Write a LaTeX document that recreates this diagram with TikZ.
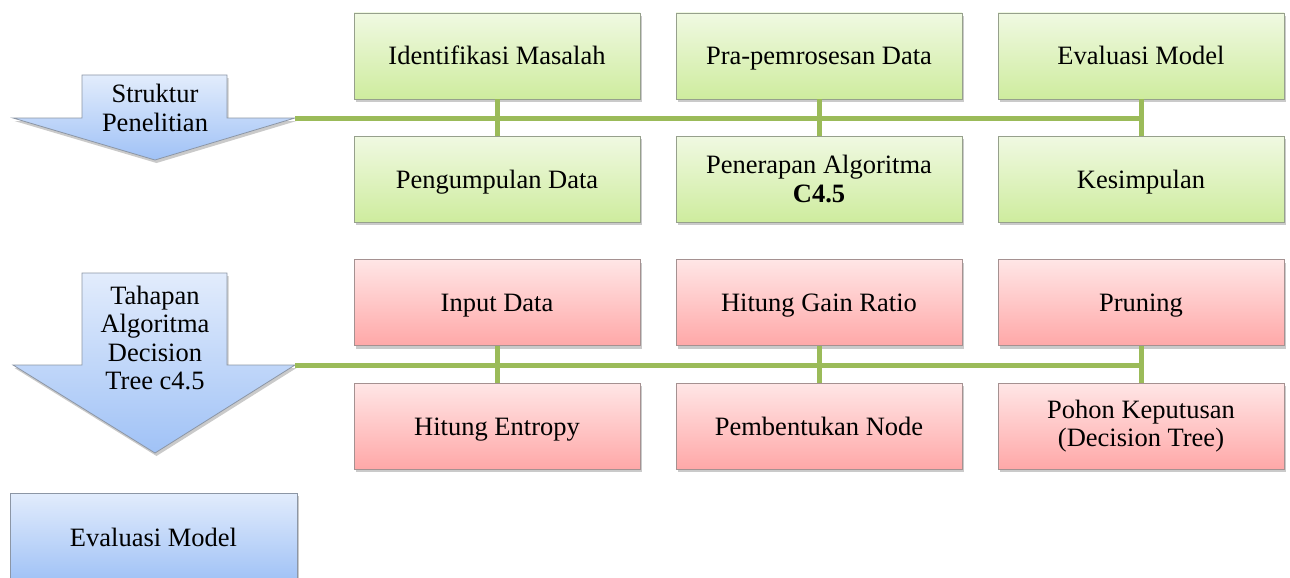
\documentclass[tikz,border=0pt]{standalone}
\usepackage{fontspec}
\setmainfont{LiberationSerif-Regular.ttf}[BoldFont=LiberationSerif-Bold.ttf]
\usetikzlibrary{shadows}
\definecolor{greentop}{RGB}{240,249,226}
\definecolor{greenbot}{RGB}{206,236,158}
\definecolor{greenedge}{RGB}{150,160,140}
\definecolor{redtop}{RGB}{255,230,230}
\definecolor{redbot}{RGB}{255,168,168}
\definecolor{rededge}{RGB}{165,145,145}
\definecolor{bluetop}{RGB}{226,236,252}
\definecolor{bluebot}{RGB}{160,194,246}
\definecolor{blueedge}{RGB}{140,150,165}
\definecolor{linkgreen}{RGB}{155,187,89}
\tikzset{
  boxbase/.style={draw, line width=0.8pt, minimum width=286pt, minimum height=86pt,
    align=center, inner sep=2pt, font=\fontsize{26.5}{28.5}\selectfont,
    drop shadow={shadow xshift=1.5pt, shadow yshift=-3pt, opacity=0.35, fill=black!60}},
  oneline/.style={text height=21pt, text depth=3pt},
  greenbox/.style={boxbase, draw=greenedge, top color=greentop, bottom color=greenbot},
  redbox/.style={boxbase, draw=rededge, top color=redtop, bottom color=redbot},
  bluebox/.style={boxbase, draw=blueedge, top color=bluetop, bottom color=bluebot},
  arrowshape/.style={draw=blueedge, line width=0.8pt, top color=bluetop, bottom color=bluebot,
    drop shadow={shadow xshift=1.5pt, shadow yshift=-3pt, opacity=0.35, fill=black!60}},
  arrowtext/.style={align=center, font=\fontsize{26.5}{28.5}\selectfont, inner sep=0pt},
  conn/.style={draw=linkgreen, line width=5pt}
}
\begin{document}
\begin{tikzpicture}[x=1pt,y=-1pt]
\useasboundingbox (0,0) rectangle (1290,578);
% arrows
\path[arrowshape] (82,75) -- (227,75) -- (227,118) -- (295,118) -- (155,160) -- (13,118) -- (82,118) -- cycle;
\node[arrowtext] (arr1) at (155,108) {Struktur\\Penelitian};
\coordinate (arr1e) at (295,118);
\path[arrowshape] (82,273) -- (227,273) -- (227,365) -- (295,365) -- (155,453) -- (13,365) -- (82,365) -- cycle;
\node[arrowtext] (arr2) at (155,338) {Tahapan\\Algoritma\\Decision\\Tree c4.5};
\coordinate (arr2e) at (295,365);
% green boxes
\node[greenbox, oneline] (g1a) at (497,56) {Identifikasi Masalah};
\node[greenbox, oneline] (g2a) at (819,56) {Pra-pemrosesan Data};
\node[greenbox, oneline] (g3a) at (1141,56) {Evaluasi Model};
\node[greenbox, oneline] (g1b) at (497,179) {Pengumpulan Data};
\node[greenbox] (g2b) at (819,179) {Penerapan Algoritma\\\textbf{C4.5}};
\node[greenbox, oneline] (g3b) at (1141,179) {Kesimpulan};
% red boxes
\node[redbox, oneline] (r1a) at (497,302.5) {Input Data};
\node[redbox, oneline] (r2a) at (819,302.5) {Hitung Gain Ratio};
\node[redbox, oneline] (r3a) at (1141,302.5) {Pruning};
\node[redbox, oneline] (r1b) at (497,426) {Hitung Entropy};
\node[redbox, oneline] (r2b) at (819,426) {Pembentukan Node};
\node[redbox] (r3b) at (1141,426) {Pohon Keputusan\\(Decision Tree)};
% bottom box
\node[bluebox, oneline, minimum width=287pt, minimum height=88pt] (ev) at (153.5,537) {Evaluasi Model};
% connectors
\draw[conn] (arr1e) -- (arr1e -| g3a.south);
\draw[conn] (arr2e) -- (arr2e -| r3a.south);
\draw[conn] (g1a.south) -- (g1b.north);
\draw[conn] (g2a.south) -- (g2b.north);
\draw[conn] (g3a.south) -- (g3b.north);
\draw[conn] (r1a.south) -- (r1b.north);
\draw[conn] (r2a.south) -- (r2b.north);
\draw[conn] (r3a.south) -- (r3b.north);
\end{tikzpicture}
\end{document}
